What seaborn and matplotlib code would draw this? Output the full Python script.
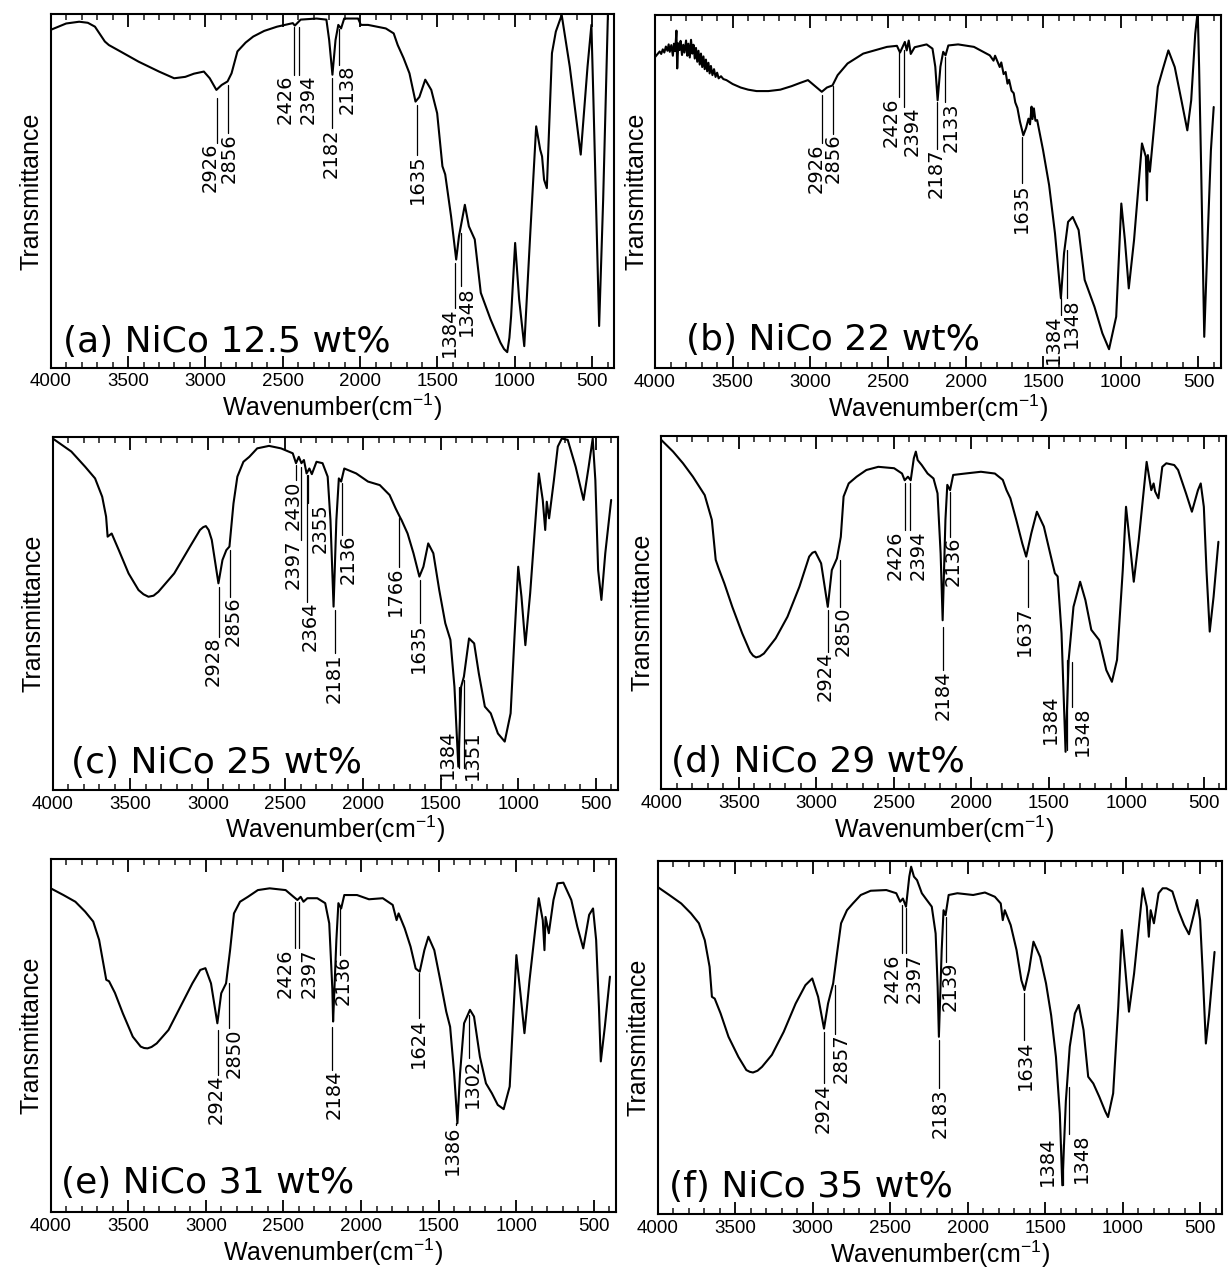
import matplotlib
matplotlib.use("Agg")
import matplotlib.pyplot as plt
from matplotlib.ticker import MultipleLocator
import pandas as pd
import seaborn as sns

# ---------------- data (wavenumber cm-1, relative transmittance 0-100) ----------------
spec_a = [(4000, 95.6), (3900, 97.4), (3816, 97.9), (3760, 97.6), (3714, 96.5), (3650, 92.3),
          (3624, 91.3), (3550, 89.5), (3432, 86.6), (3300, 83.8), (3202, 81.9), (3130, 82.3),
          (3074, 83.2), (3010, 83.8), (2972, 81.9), (2929, 78.6), (2895, 80.0),
          (2857, 81.0), (2831, 83.3), (2793, 89.5), (2740, 92.0), (2691, 93.7), (2620, 95.3),
          (2537, 96.5), (2435, 97.5),
          (2422, 96.8), (2384, 98.5), (2282, 98.8), (2218, 98.5), (2200, 92.7), (2179, 82.9),
          (2159, 92.7), (2141, 97.0), (2123, 96.0), (2103, 98.8), (2013, 98.8), (1995, 97.0),
          (1949, 97.0), (1834, 96.0), (1783, 94.6), (1757, 91.3), (1719, 87.6), (1681, 83.3),
          (1642, 75.3), (1617, 76.6), (1579, 81.5), (1540, 78.6), (1502, 72.0), (1468, 57.0),
          (1450, 54.7), (1412, 42.8), (1379, 30.6), (1361, 37.2), (1323, 46.1), (1297, 40.0),
          (1259, 36.3), (1220, 21.2), (1157, 13.7), (1093, 7.1), (1070, 5.3), (1049, 4.4),
          (1035, 8.5), (1024, 14.6),
          (998, 35.3), (972, 19.3), (939, 6.1), (900, 38.1), (862, 68.3), (836, 61.7),
          (824, 59.8), (811, 53.2), (793, 50.8), (760, 89.0), (735, 95.1), (697, 99.8),
          (645, 85.2), (574, 60.3), (530, 85.2), (505, 97.0), (492, 75.8), (455, 11.8),
          (429, 47.6), (398, 100.5), (380, 103.0)]

spec_b = [(4000, 88.0), (3985, 88.8), (3970, 89.6), (3960, 88.9), (3950, 90.2), (3940, 89.3),
          (3930, 91.0), (3920, 89.8), (3912, 91.6), (3905, 89.5), (3895, 91.4), (3885, 88.4),
          (3878, 91.8), (3870, 89.7), (3862, 95.5), (3857, 84.8), (3850, 91.9), (3842, 90.0),
          (3835, 92.6), (3826, 88.6), (3818, 91.5), (3810, 89.3), (3800, 92.7), (3792, 88.4),
          (3785, 91.8), (3776, 87.9), (3768, 92.9), (3760, 89.0), (3752, 91.5), (3744, 87.6),
          (3736, 90.6), (3728, 86.7), (3720, 89.8), (3712, 85.9), (3704, 89.0), (3696, 85.2),
          (3688, 88.2), (3680, 84.6), (3672, 87.3), (3664, 84.0), (3656, 86.4), (3648, 83.4),
          (3640, 85.5), (3630, 82.9), (3620, 84.6), (3610, 82.4), (3600, 83.6), (3590, 82.0),
          (3575, 82.6), (3560, 81.8), (3540, 81.5), (3500, 80.4), (3448, 79.4), (3400, 78.8),
          (3346, 78.4), (3270, 78.4), (3193, 78.8), (3120, 79.8), (3066, 80.7), (3015, 81.5),
          (2977, 80.1), (2926, 78.2), (2893, 79.4), (2857, 80.0), (2824, 82.9), (2760, 86.2),
          (2659, 89.0), (2506, 90.9), (2442, 91.2), (2422, 89.3), (2391, 92.3), (2379, 89.9),
          (2366, 92.7), (2353, 88.9), (2328, 90.8), (2251, 91.6), (2213, 90.4), (2195, 85.3),
          (2180, 75.8), (2162, 85.3), (2144, 89.5), (2129, 88.5), (2111, 91.3), (2048, 91.6),
          (1946, 90.9), (1844, 88.5), (1820, 87.0), (1810, 88.4), (1793, 86.6), (1780, 85.2),
          (1770, 86.5), (1755, 83.2), (1742, 83.8), (1730, 80.5), (1720, 81.6), (1704, 78.5),
          (1690, 77.8), (1680, 75.2), (1666, 73.6), (1650, 69.8), (1628, 65.9), (1610, 68.0),
          (1595, 70.6), (1585, 69.0), (1575, 74.0), (1569, 70.5), (1560, 73.5), (1550, 70.0),
          (1539, 70.2), (1501, 61.7), (1462, 51.8), (1424, 38.1), (1386, 19.8), (1366, 32.5),
          (1340, 41.4), (1310, 42.8), (1272, 39.1), (1233, 25.0), (1170, 17.4), (1119, 9.9),
          (1076, 5.4), (1030, 14.6), (997, 46.6), (974, 36.3), (949, 22.6), (915, 36.3),
          (864, 63.6), (839, 59.8), (832, 47.5), (826, 60.3), (813, 55.6), (762, 79.6),
          (729, 84.7), (694, 89.9), (653, 85.2), (610, 75.8), (572, 67.3), (547, 75.8),
          (521, 94.6), (505, 101.0), (496, 85.2), (483, 56.9), (463, 8.9), (440, 38.1),
          (420, 61.7), (402, 73.9)]

spec_c = [(4000, 99.5), (3880, 95.8), (3791, 91.5), (3727, 88.2), (3681, 83.0), (3656, 77.4),
          (3646, 71.7), (3620, 72.6), (3574, 67.9), (3511, 61.3), (3447, 56.6), (3415, 55.4),
          (3383, 54.7), (3350, 55.0),
          (3319, 56.1), (3217, 61.3), (3115, 68.9), (3051, 73.6), (3030, 74.4), (3013, 74.7),
          (2995, 73.6), (2975, 70.8),
          (2932, 58.5), (2906, 65.1), (2881, 67.9), (2861, 68.9), (2835, 81.1), (2810, 88.7),
          (2771, 92.9), (2733, 94.3), (2682, 96.7), (2606, 97.4), (2529, 96.7), (2453, 95.3),
          (2432, 92.5), (2414, 94.3), (2397, 92.5), (2381, 93.4), (2364, 89.6), (2346, 91.0),
          (2330, 89.4), (2300, 92.9), (2261, 92.5), (2228, 88.7), (2210, 76.4), (2190, 51.9),
          (2172, 76.4), (2156, 88.2), (2141, 87.3), (2121, 91.0), (2044, 89.6), (1968, 87.3),
          (1892, 86.3), (1829, 83.5), (1790, 79.7), (1764, 77.4), (1752, 76.4), (1713, 72.6),
          (1675, 67.0), (1637, 60.4), (1611, 63.2), (1580, 69.8), (1547, 67.0), (1509, 56.6),
          (1470, 47.2), (1437, 42.5), (1411, 29.2), (1386, 6.6), (1368, 29.2), (1350, 32.1),
          (1317, 42.9), (1284, 41.5), (1254, 33.0), (1215, 23.6), (1177, 21.7), (1131, 16.0),
          (1087, 13.7), (1049, 21.7), (1024, 43.4), (1000, 63.2), (979, 54.7), (954, 41.0),
          (923, 55.7), (867, 89.6), (842, 82.1), (826, 73.6), (816, 81.6), (801, 76.9),
          (770, 87.7), (745, 97.2), (719, 99.5), (681, 99.1), (630, 91.5), (579, 82.1),
          (546, 91.5), (520, 99.5), (503, 87.7), (485, 62.3), (464, 53.8), (439, 67.0),
          (401, 82.1)]

spec_d = [(4000, 98.8), (3924, 95.5), (3860, 92.2), (3796, 88.4), (3720, 83.2), (3674, 76.2),
          (3649, 64.9), (3631, 62.6), (3593, 58.2), (3542, 51.6), (3478, 44.1), (3427, 38.9),
          (3408, 37.8), (3389, 37.3), (3365, 37.6),
          (3338, 38.4), (3262, 42.7), (3186, 48.8), (3109, 57.3), (3046, 65.8), (3025, 66.9),
          (3007, 67.2), (2969, 63.9), (2926, 51.6), (2900, 62.0), (2867, 65.3), (2842, 71.4),
          (2824, 82.8), (2791, 86.5), (2740, 88.4), (2677, 90.3), (2600, 91.2), (2498, 90.8),
          (2447, 89.3), (2430, 87.4), (2409, 88.4), (2391, 87.4), (2371, 93.6), (2358, 95.5),
          (2346, 93.1), (2320, 91.7), (2282, 89.3), (2244, 87.9), (2218, 83.7), (2198, 66.7),
          (2185, 47.8), (2167, 76.2), (2155, 86.1), (2137, 84.6), (2117, 88.9), (2040, 89.3),
          (1938, 89.8), (1848, 89.3), (1797, 87.5), (1773, 84.6), (1748, 82.3), (1710, 76.2),
          (1671, 69.5), (1646, 65.8), (1613, 72.4), (1577, 78.5), (1532, 74.3), (1494, 67.2),
          (1461, 61.1), (1443, 60.2), (1418, 44.1), (1392, 10.6), (1372, 36.6), (1341, 51.6),
          (1298, 58.7), (1264, 53.5), (1226, 45.1), (1175, 42.2), (1129, 33.7), (1093, 30.4),
          (1060, 36.6), (1023, 62.0), (1002, 79.9), (977, 69.5), (952, 58.7), (920, 70.5),
          (869, 92.6), (839, 84.6), (824, 86.5), (814, 84.2), (793, 82.3), (768, 91.2),
          (742, 92.2), (691, 91.7), (666, 90.3), (615, 83.7), (577, 78.5), (538, 84.6),
          (520, 86.5), (500, 79.9), (483, 62.0), (462, 44.6), (437, 54.5), (406, 70.0)]

spec_e = [(4000, 91.7), (3918, 89.8), (3841, 87.9), (3778, 85.1), (3726, 82.3), (3688, 77.1),
          (3657, 69.5), (3642, 65.8), (3624, 65.4), (3586, 62.1), (3535, 56.3), (3471, 49.7),
          (3420, 46.9), (3398, 46.5), (3376, 46.4), (3350, 46.8), (3317, 47.8), (3241, 51.6),
          (3164, 58.2), (3087, 64.8),
          (3036, 68.6), (3003, 69.1), (2967, 64.8), (2926, 53.5), (2901, 62.0), (2870, 64.8),
          (2844, 74.2), (2819, 84.6), (2780, 87.9), (2729, 89.3), (2665, 91.2), (2589, 91.7),
          (2486, 91.2), (2435, 89.3), (2410, 88.4), (2389, 89.3), (2371, 87.9), (2346, 88.9),
          (2282, 88.9), (2231, 87.5), (2205, 81.8), (2185, 63.2), (2180, 54.0), (2159, 77.1),
          (2146, 87.5), (2128, 86.0), (2108, 89.8), (2026, 89.8), (1949, 88.6), (1860, 88.9),
          (1796, 87.0), (1771, 82.7), (1758, 84.6), (1719, 80.4), (1681, 75.2), (1648, 69.0),
          (1622, 68.1), (1592, 74.2), (1566, 78.0), (1528, 74.2), (1490, 65.8), (1451, 56.8),
          (1426, 52.5), (1400, 39.3), (1379, 25.2), (1362, 39.3), (1336, 53.5), (1298, 57.3),
          (1272, 55.4), (1234, 44.0), (1195, 36.5), (1157, 33.7), (1119, 30.4), (1081, 29.2),
          (1042, 35.6), (1016, 58.2), (999, 72.8), (973, 62.0), (947, 50.7), (914, 65.8),
          (855, 88.9), (829, 82.7), (818, 74.2), (811, 83.6), (790, 79.0), (760, 88.4),
          (734, 93.1), (696, 93.3), (645, 88.4), (606, 80.8), (568, 74.7), (530, 84.2),
          (505, 86.0), (485, 77.1), (467, 58.2), (455, 42.7), (429, 52.5), (396, 66.7)]

spec_f = [(4000, 92.6), (3924, 90.3), (3847, 87.9), (3784, 85.1), (3733, 82.3), (3695, 77.5),
          (3664, 70.0), (3649, 61.5), (3631, 61.0), (3593, 56.8), (3542, 50.2), (3478, 44.5),
          (3427, 40.8), (3405, 40.3), (3384, 40.1), (3355, 40.6), (3326, 41.7), (3262, 45.1),
          (3186, 51.6), (3109, 59.6),
          (3046, 64.8), (3002, 66.7), (2964, 61.5), (2926, 52.5), (2900, 59.6), (2867, 65.3),
          (2842, 73.8), (2816, 82.3), (2778, 86.0), (2740, 87.9), (2689, 90.3), (2625, 91.5),
          (2524, 91.7), (2460, 90.8), (2435, 88.4), (2417, 89.3), (2397, 87.0), (2376, 95.5),
          (2364, 98.3), (2346, 95.5), (2326, 94.5), (2295, 90.8), (2270, 89.3), (2231, 87.0),
          (2206, 79.4), (2193, 64.3), (2185, 50.2), (2167, 74.7), (2155, 86.0), (2142, 84.6),
          (2122, 90.3), (2066, 90.8), (1964, 90.3), (1888, 91.0), (1824, 89.8), (1786, 87.9),
          (1773, 83.2), (1760, 86.0), (1722, 81.8), (1684, 74.7), (1653, 66.2), (1633, 63.4),
          (1603, 69.1), (1575, 77.1), (1532, 72.8), (1494, 65.3), (1461, 56.3), (1430, 44.5),
          (1405, 28.5), (1389, 8.2), (1366, 32.1), (1341, 47.4), (1308, 56.8), (1283, 59.2),
          (1252, 52.1), (1222, 38.9), (1189, 37.0), (1150, 33.2), (1112, 29.1), (1094, 27.5),
          (1061, 34.2), (1028, 58.7), (1005, 80.4), (984, 70.0), (959, 57.3), (926, 68.1),
          (870, 92.2), (844, 87.0), (831, 78.5), (819, 86.0), (798, 82.3), (768, 90.8),
          (742, 92.2), (717, 92.2), (679, 91.3), (641, 86.0), (603, 81.8), (572, 79.2),
          (539, 85.1), (519, 88.9), (500, 83.2), (483, 68.1), (463, 48.3), (442, 56.6),
          (407, 74.2)]

# peak labels: (label, leader top, leader bottom, text centre wavenumber, text top)
peaks_a = [("2926", 76.3, 63.6, 2972, 63.6), ("2856", 80.0, 66.4, 2844, 66.4),
           ("2426", 96.3, 82.9, 2486, 82.9), ("2394", 96.5, 82.9, 2333, 82.9),
           ("2182", 81.9, 67.8, 2185, 67.8), ("2138", 95.8, 85.7, 2082, 85.7),
           ("1635", 74.4, 60.3, 1630, 60.3), ("1384", 29.7, 16.9, 1422, 16.9),
           ("1348", 38.1, 23.1, 1312, 23.1)]
peaks_b = [("2926", 77.2, 63.6, 2964, 63.6), ("2856", 79.8, 66.4, 2850, 66.4),
           ("2426", 89.5, 76.7, 2481, 76.7), ("2394", 89.9, 73.9, 2341, 73.9),
           ("2187", 75.3, 62.1, 2188, 62.1), ("2133", 88.0, 75.3, 2094, 75.3),
           ("1635", 65.4, 52.3, 1641, 52.3), ("1384", 19.8, 15.1, 1432, 15.1),
           ("1348", 33.4, 19.8, 1318, 19.8)]
peaks_c = [("2928", 57.5, 43.4, 2963, 43.4), ("2856", 67.9, 54.7, 2835, 54.7),
           ("2430", 92.0, 87.7, 2453, 87.7), ("2397", 91.5, 70.8, 2453, 70.8),
           ("2364", 89.2, 53.3, 2338, 53.3), ("2355", 89.2, 81.1, 2279, 81.1),
           ("2181", 50.9, 38.7, 2185, 38.7), ("2136", 86.8, 72.2, 2096, 72.2),
           ("1766", 76.9, 63.2, 1790, 63.2), ("1635", 59.4, 47.2, 1642, 47.2),
           ("1384", 29.2, 6.1, 1459, 17.0), ("1351", 31.1, 6.1, 1293, 17.0)]
peaks_d = [("2924", 50.7, 38.9, 2944, 38.9), ("2850", 64.8, 51.6, 2824, 51.6),
           ("2426", 86.5, 73.3, 2493, 73.3), ("2394", 86.5, 73.3, 2346, 73.3),
           ("2184", 46.0, 33.7, 2180, 33.7), ("2136", 84.2, 71.4, 2117, 71.4),
           ("1637", 64.8, 51.6, 1658, 51.6), ("1384", 36.6, 11.1, 1493, 26.7),
           ("1348", 36.1, 23.4, 1284, 23.4)]
peaks_e = [("2924", 51.6, 38.9, 2934, 38.9), ("2850", 64.8, 52.1, 2819, 52.1),
           ("2426", 87.9, 74.7, 2491, 74.7), ("2397", 87.9, 74.7, 2333, 74.7),
           ("2184", 52.5, 40.3, 2172, 40.3), ("2136", 86.0, 72.8, 2116, 72.8),
           ("1624", 67.6, 54.9, 1630, 54.9), ("1386", 25.2, 24.7, 1412, 24.7),
           ("1302", 55.8, 43.6, 1285, 43.6)]
peaks_f = [("2924", 51.6, 37.0, 2931, 37.0), ("2857", 64.8, 51.1, 2817, 51.1),
           ("2426", 87.5, 73.8, 2486, 73.8), ("2397", 86.5, 73.8, 2346, 73.8),
           ("2183", 49.2, 35.6, 2180, 35.6), ("2139", 84.2, 71.4, 2111, 71.4),
           ("1634", 62.5, 49.2, 1628, 49.2), ("1384", 20.0, 8.2, 1485, 21.9),
           ("1348", 36.0, 22.8, 1264, 22.8)]

titles = ["(a) NiCo 12.5 wt%", "(b) NiCo 22 wt%", "(c) NiCo 25 wt%",
          "(d) NiCo 29 wt%", "(e) NiCo 31 wt%", "(f) NiCo 35 wt%"]
spectra = [spec_a, spec_b, spec_c, spec_d, spec_e, spec_f]
peaks = [peaks_a, peaks_b, peaks_c, peaks_d, peaks_e, peaks_f]

# ---------------- layout (pixel boxes: left, right, top, bottom) ----------------
W, H = 1229, 1272
boxes = [(50.7, 614.3, 14.3, 367.7), (655.0, 1220.7, 14.7, 368.3),
         (52.7, 618.0, 436.7, 790.0), (661.3, 1226.0, 435.7, 789.3),
         (50.7, 616.0, 859.0, 1212.3), (657.5, 1222.3, 860.7, 1214.3)]
title_pos = [(0.022, 0.045), (0.054, 0.051), (0.033, 0.048),
             (0.018, 0.050), (0.019, 0.054), (0.021, 0.049)]

sns.set_theme(style="ticks")
plt.rcParams["font.family"] = ["Liberation Sans", "DejaVu Sans"]
plt.rcParams["mathtext.default"] = "regular"

fig = plt.figure(figsize=(W / 100, H / 100), dpi=100)
fig.patch.set_facecolor("white")

for i in range(6):
    l, r, t, b = boxes[i]
    ax = fig.add_axes([l / W, 1 - b / H, (r - l) / W, (b - t) / H])
    ax.set_facecolor("white")
    df = pd.DataFrame(spectra[i], columns=["wn", "T"])
    sns.lineplot(data=df, x="wn", y="T", sort=False, estimator=None,
                 color="black", linewidth=1.5, ax=ax)
    ax.set_xlim(4000, 357)
    ax.set_ylim(0, 100)
    for lab, y1, y2, tx, ty in peaks[i]:
        xv = float(lab)
        ax.plot([xv, xv], [y1, y2], color="black", linewidth=0.9)
        ax.text(tx, ty, lab, rotation=90, ha="center", va="top",
                fontsize=14, family=["DejaVu Sans"], color="black")
    ax.text(title_pos[i][0], title_pos[i][1], titles[i], transform=ax.transAxes,
            ha="left", va="baseline", fontsize=26, family=["DejaVu Sans"], color="black")
    ax.xaxis.set_major_locator(MultipleLocator(500))
    ax.xaxis.set_minor_locator(MultipleLocator(100))
    ax.tick_params(axis="x", which="major", direction="in", length=9, width=1.3,
                   top=True, bottom=True, labelsize=13.5, pad=4, colors="black")
    ax.tick_params(axis="x", which="minor", direction="in", length=4.3, width=1.2,
                   top=True, bottom=True)
    ax.set_yticks([])
    for sp in ax.spines.values():
        sp.set_visible(True)
        sp.set_linewidth(1.5)
        sp.set_color("black")
    ax.set_xlabel("Wavenumber(cm$^{-1}$)", fontsize=18, labelpad=1, color="black")
    ax.set_ylabel("Transmittance", fontsize=18, labelpad=5, color="black")

fig.savefig("out.png", dpi=100, facecolor="white")
